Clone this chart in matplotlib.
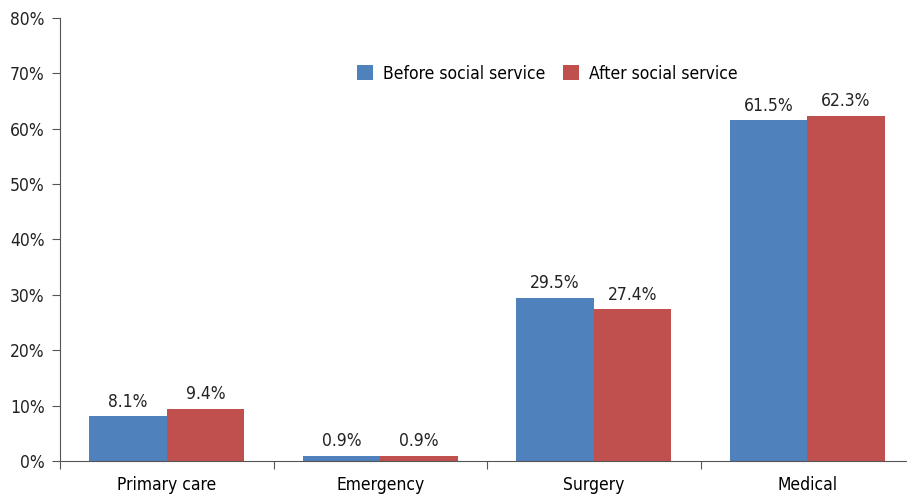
import matplotlib
matplotlib.use("Agg")
import matplotlib.pyplot as plt
import numpy as np

# -----------------------------
# Data
# -----------------------------
categories = ["Primary care", "Emergency", "Surgery", "Medical"]
before = [8.1, 0.9, 29.5, 61.5]
after = [9.4, 0.9, 27.4, 62.3]
series_names = ["Before social service", "After social service"]
yticks = [0, 10, 20, 30, 40, 50, 60, 70, 80]

# condensed face to get close to the narrow Helvetica of the original
plt.rcParams["font.family"] = ["DejaVu Sans"]
plt.rcParams["font.stretch"] = "condensed"
plt.rcParams["font.size"] = 12.5

# -----------------------------
# Figure
# -----------------------------
fig = plt.figure(figsize=(9.07, 4.98), dpi=100)
ax = fig.add_axes([60 / 907, 37 / 498, 854 / 907, 443 / 498])

x = np.arange(len(categories))
w = 0.363
b1 = ax.bar(x - w / 2, before, w, color="#4F81BD", label=series_names[0])
b2 = ax.bar(x + w / 2, after, w, color="#C0504D", label=series_names[1])

for bars, vals in [(b1, before), (b2, after)]:
    for rect, v in zip(bars, vals):
        ax.text(rect.get_x() + rect.get_width() / 2, v + 1.0, f"{v}%",
                ha="center", va="bottom", fontsize=12.5, color="#222222")

ax.set_xlim(-0.5, len(categories) - 0.5)
ax.set_ylim(0, 80)
ax.set_yticks(yticks)
ax.set_yticklabels([f"{t}%" for t in yticks])

# category labels between boundary ticks
ax.set_xticks(np.arange(len(categories) + 1) - 0.5)
ax.set_xticklabels([])
ax.set_xticks(x, minor=True)
ax.set_xticklabels(categories, minor=True)
ax.tick_params(axis="x", which="minor", length=0, pad=11)
ax.tick_params(axis="x", which="major", length=6, color="#555555")
ax.tick_params(axis="y", length=6, pad=5, color="#555555")
ax.tick_params(labelsize=12.5, labelcolor="#222222")

for s in ["top", "right"]:
    ax.spines[s].set_visible(False)
for s in ["left", "bottom"]:
    ax.spines[s].set_color("#555555")

ax.legend(loc="upper center", bbox_to_anchor=(0.571, 0.93), ncol=2, frameon=False,
          handlelength=0.9, handleheight=0.9, handletextpad=0.6, columnspacing=1.0,
          fontsize=12.5)

plt.savefig("out.png", dpi=100)
